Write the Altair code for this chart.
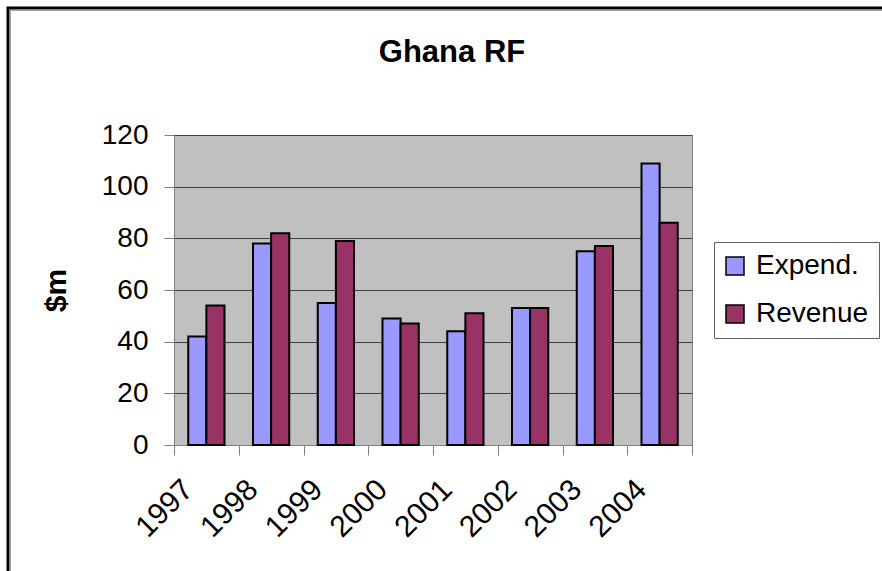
import altair as alt
import pandas as pd

years = ["1997", "1998", "1999", "2000", "2001", "2002", "2003", "2004"]
expend = [42, 78, 55, 49, 44, 53, 75, 109]
revenue = [54, 82, 79, 47, 51, 53, 77, 86]
series = ["Expend.", "Revenue"]
colors = ["#9999FF", "#993366"]
y_ticks = [0, 20, 40, 60, 80, 100, 120]
title_text = "Ghana RF"

rows = []
for i, yr in enumerate(years):
    rows.append({"year": yr, "series": series[0], "value": expend[i]})
    rows.append({"year": yr, "series": series[1], "value": revenue[i]})
df = pd.DataFrame(rows)

FONT = "Liberation Sans"

bars = alt.Chart(df).mark_bar(stroke="black", strokeWidth=2).encode(
    x=alt.X(
        "year:N",
        sort=years,
        title=None,
        scale=alt.Scale(paddingInner=0, paddingOuter=0),
        axis=alt.Axis(
            labelAngle=-45,
            labelAlign="right",
            labelBaseline="top",
            labelFontSize=30,
            labelFont=FONT,
            labelColor="black",
            labelOffset=-29,
            labelPadding=19,
            tickBand="extent",
            tickSize=10,
            tickColor="#808080",
            domainColor="#808080",
            grid=False,
        ),
    ),
    xOffset=alt.XOffset(
        "series:N",
        sort=series,
        scale=alt.Scale(domain=series, paddingInner=0, paddingOuter=0.786),
    ),
    y=alt.Y(
        "value:Q",
        title="$m",
        scale=alt.Scale(domain=[0, 120], nice=False),
        axis=alt.Axis(
            values=y_ticks,
            labelFontSize=28,
            labelFont=FONT,
            labelColor="black",
            labelPadding=16,
            tickSize=10,
            tickColor="#808080",
            domainColor="#808080",
            grid=True,
            gridColor="#404040",
            gridWidth=1,
            titleFontSize=30,
            titleFont=FONT,
            titleFontWeight="bold",
            titleColor="black",
            titlePadding=30,
        ),
    ),
    color=alt.Color(
        "series:N",
        scale=alt.Scale(domain=series, range=colors),
        legend=alt.Legend(
            title=None,
            orient="none",
            legendX=540,
            legendY=107,
            fillColor="white",
            strokeColor="#606060",
            padding=10,
            symbolType="square",
            symbolSize=324,
            symbolOffset=-3,
            symbolStrokeColor="black",
            symbolStrokeWidth=1.5,
            labelFontSize=28,
            labelFont=FONT,
            labelColor="black",
            labelOffset=7,
            rowPadding=20,
        ),
    ),
)

frame = alt.Chart(pd.DataFrame({"f": [0]})).mark_rect(
    filled=False, stroke="black", strokeWidth=3
).encode(
    x=alt.value(-166), x2=alt.value(900), y=alt.value(-127), y2=alt.value(600)
)

frame_shadow = alt.Chart(pd.DataFrame({"f": [0]})).mark_rect(
    filled=False, stroke="#A0A0A0", strokeWidth=1
).encode(
    x=alt.value(-163.5), x2=alt.value(900), y=alt.value(-124.5), y2=alt.value(600)
)

title = alt.Chart(pd.DataFrame({"t": [title_text]})).mark_text(
    font=FONT, fontSize=31, fontWeight="bold", color="black",
    align="center", baseline="alphabetic",
).encode(text="t:N", x=alt.value(278), y=alt.value(-73))

chart = alt.layer(frame_shadow, frame, bars, title).properties(
    width=518,
    height=310,
    autosize=alt.AutoSizeParams(type="none"),
    padding={"left": 174, "top": 135, "right": 190, "bottom": 126},
).configure(font=FONT, background="white").configure_view(
    fill="#C0C0C0", stroke="#808080", strokeWidth=1
)

chart.save("out.html", embed_options={"renderer": "svg", "actions": False})
